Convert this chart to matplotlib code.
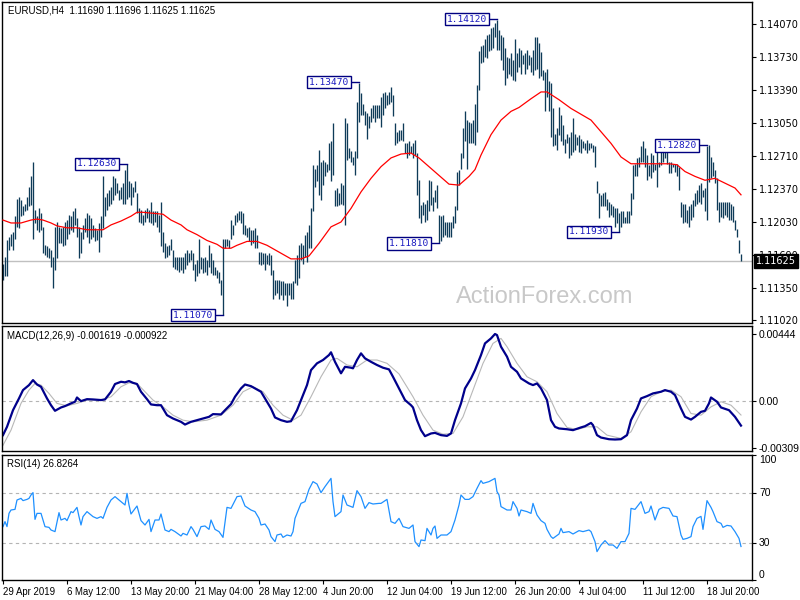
import numpy as np
import matplotlib
matplotlib.use('Agg')
import matplotlib.pyplot as plt

# EURUSD H4 bars, high / low in pips above 1.1000, one value per bar
hi_pips = [160, 167, 184, 188, 191, 193, 209, 227, 229, 226,
           219, 222, 229, 239, 250, 265, 215, 209, 217, 212,
           198, 179, 178, 176, 174, 167, 198, 203, 198, 197,
           198, 203, 205, 210, 209, 214, 217, 207, 198, 193,
           200, 207, 212, 210, 207, 200, 197, 195, 202, 209,
           250, 229, 233, 236, 239, 250, 248, 243, 236, 239,
           243, 257, 263, 245, 243, 239, 245, 233, 217, 215,
           210, 215, 217, 215, 224, 214, 214, 214, 210, 224,
           193, 181, 178, 179, 185, 174, 167, 167, 167, 167,
           167, 171, 174, 171, 174, 171, 160, 164, 186, 167,
           166, 167, 164, 179, 171, 164, 157, 154, 152, 143,
           185, 186, 186, 184, 205, 200, 210, 212, 214, 214,
           212, 200, 197, 198, 195, 195, 197, 190, 172, 172,
           171, 171, 169,
           171, 169, 154, 143, 143, 143, 142, 142, 140, 140,
           140, 140, 142, 164, 169, 179, 181, 179, 190, 193,
           200, 217, 262, 258, 262, 277, 265, 267, 265, 263,
           284, 286, 305, 236, 238, 233, 243, 241, 310, 305,
           279, 276, 270, 276, 327, 346, 336, 325, 317, 315,
           312, 320, 324, 324, 324, 324, 332, 336, 337, 334,
           337, 342, 334, 305, 296, 298, 298, 305, 284, 284,
           286, 281, 284, 288, 274, 246, 221, 224, 222, 226,
           246, 245, 229, 236, 241, 210, 209, 210, 203, 203,
           203, 203, 209, 219, 255, 257, 274, 300, 317, 308,
           306, 305, 308, 325, 344, 379, 384, 385, 392, 396,
           397, 403, 404, 408, 411, 401, 396, 394, 382, 373,
           372, 377, 370, 392,
           377, 382, 380, 375, 377, 380, 375, 373, 380, 394,
           394, 387, 378, 360, 358, 361, 348, 346, 320, 294,
           300, 322, 313, 303, 289, 294, 291, 296, 310, 294,
           291, 293, 289, 286, 284, 287, 284, 284, 282, 281,
           245, 233, 231, 233, 234, 227, 224, 222, 220, 217,
           217, 212, 214, 214, 208, 214, 214, 233, 262, 263,
           269, 270, 281, 286, 279, 272, 262, 274, 272, 263,
           279, 265, 275, 277, 281, 279, 265, 265, 263, 263,
           263, 260, 224, 222, 222, 215, 219, 222, 226, 233,
           236, 241, 243, 236, 238, 281, 282, 270, 265, 257,
           248, 224, 224, 224, 224, 224, 224, 222, 220, 205,
           196, 184, 170]
lo_pips = [143, 147, 147, 174, 178, 174, 185, 198, 197, 209,
           210, 214, 215, 219, 221, 186, 202, 195, 193, 195,
           171, 169, 167, 166, 157, 135, 154, 166, 181, 181,
           178, 179, 185, 191, 195, 193, 200, 188, 166, 171,
           185, 193, 188, 181, 186, 188, 183, 184, 172, 188,
           197, 209, 215, 219, 222, 226, 231, 233, 226, 227,
           222, 222, 227, 229, 221, 229, 234, 212, 203, 202,
           200, 203, 207, 203, 202, 200, 203, 198, 193, 178,
           172, 166, 167, 169, 174, 157, 155, 154, 152, 154,
           150, 155, 159, 162, 164, 154, 142, 147, 150, 155,
           150, 152, 148, 157, 150, 148, 148, 145, 140, 128,
           107, 176, 178, 176, 185, 190, 200, 203, 205, 202,
           191, 190, 188, 183, 179, 181, 176, 176, 160, 159,
           160, 154, 160,
           159, 148, 124, 128, 130, 124, 128, 123, 128, 116,
           128, 124, 124, 140, 138, 145, 164, 160, 167, 162,
           176, 176, 214, 239, 245, 231, 226, 241, 250, 255,
           257, 245, 251, 219, 219, 221, 222, 221, 200, 267,
           269, 265, 262, 251, 269, 306, 313, 313, 303, 289,
           300, 306, 310, 306, 310, 310, 301, 313, 320, 324,
           325, 327, 312, 282, 284, 286, 288, 286, 274, 269,
           272, 274, 269, 272, 231, 207, 202, 210, 203, 205,
           214, 221, 214, 224, 217, 181, 183, 188, 190, 188,
           188, 188, 197, 202, 215, 241, 258, 269, 286, 258,
           284, 284, 284, 282, 296, 339, 367, 368, 373, 372,
           379, 380, 382, 394, 380, 380, 370, 360, 344, 351,
           356, 353, 349, 348,
           358, 363, 356, 366, 356, 361, 365, 358, 354, 360,
           361, 351, 353, 349, 317, 332, 317, 291, 281, 282,
           277, 293, 286, 282, 274, 284, 269, 272, 275, 277,
           282, 275, 274, 279, 277, 274, 277, 279, 275, 260,
           233, 207, 219, 220, 219, 215, 208, 210, 208, 198,
           202, 193, 198, 202, 202, 202, 202, 210, 227, 250,
           250, 260, 265, 265, 260, 246, 250, 248, 255, 257,
           239, 260, 262, 265, 269, 263, 253, 253, 260, 255,
           250, 236, 208, 202, 203, 202, 198, 205, 208, 220,
           222, 224, 222, 229, 214, 205, 244, 248, 250, 243,
           215, 203, 208, 207, 210, 208, 205, 205, 203, 195,
           188, 171, 162.5]

# moving average (red), bar index / pips
ma_idx = [0, 4, 9, 14, 17, 20, 24, 27, 32, 37, 42, 47, 50, 54, 59, 64, 67, 70, 75, 80,
          84, 89, 92, 97, 102, 107, 110, 114, 117, 122, 127, 132, 138, 144, 149, 153, 158, 164, 169, 174,
          179, 184, 189, 194, 199, 204, 208, 213, 218, 223, 228, 233, 236, 239, 244, 249, 254, 258, 264, 269,
          272, 278, 284, 294, 299, 304, 309, 314, 321, 328, 333, 337, 341, 346, 351, 356, 361, 366, 369]
ma_pips = [205, 202, 202, 205, 206, 205, 202, 199, 197, 197, 195, 195, 195, 200, 204, 209, 213, 213, 212, 211,
           205, 200, 195, 190, 184, 180, 176, 176, 179, 183, 183, 179, 172, 165, 165, 168, 181, 198, 203, 217,
           234, 248, 260, 269, 273, 274, 269, 260, 251, 242, 241, 250, 257, 272, 293, 308, 317, 321, 330, 337,
           337, 329, 320, 308, 296, 284, 270, 263, 263, 263, 263, 262, 255, 250, 246, 248, 243, 238, 231]

# swing labels
swing_idx = [62, 110, 178, 218, 247, 308, 352]
swing_txt = ['1.12630', '1.11070', '1.13470', '1.11810', '1.14120', '1.11930', '1.12820']

# MACD(12,26,9)
macd_idx = [0, 2, 5, 8, 10, 13, 15, 17, 19, 22, 24, 26, 29, 31, 34, 36, 37, 39, 42, 45,
            49, 51, 54, 56, 59, 61, 63, 65, 67, 69, 72, 74, 77, 79, 82, 85, 89, 91, 94, 97,
            100, 103, 105, 109, 111, 114, 116, 119, 121, 124, 126, 129, 131, 134, 136, 139, 142, 144, 147, 149,
            152, 154, 157, 160, 163, 164, 166, 169, 171, 174, 175, 177, 179, 181, 184, 187, 190, 193, 195, 198,
            201, 204, 205, 207, 209, 211, 214, 216, 219, 222, 224, 226, 229, 231, 234, 236, 239, 241, 244, 246,
            247, 249, 252, 254, 257, 259, 263, 265, 267, 269, 272, 274, 276, 278, 282, 285, 289, 291, 294, 295,
            297, 299, 303, 306, 309, 312, 314, 317, 319, 322, 325, 329, 331, 334, 336, 339, 341, 344, 346, 349,
            351, 353, 354, 357, 359, 363, 366, 369]
macd_val = [-0.00225, -0.0017, -0.0006, 0.00018, 0.00073, 0.00106, 0.00139, 0.0011, 0.00095, 0.00018,
            -0.00027, -0.00064, -0.00042, -0.00033, -0.00015, -0.00004, 0.00024, 0.0, 0.00013, 0.00011,
            0.00007, 0.00011, 0.00062, 0.00113, 0.00128, 0.00124, 0.00133, 0.00121, 0.00113, 0.00062,
            0.00013, -0.00022, -0.00027, -0.00027, -0.00093, -0.00115, -0.00137, -0.00155, -0.00137, -0.00126,
            -0.00115, -0.00104, -0.00086, -0.00088, -0.0006, -0.0002, 0.00029, 0.00084, 0.0011, 0.00099,
            0.00084, 0.00062, 0.00018, -0.00049, -0.00108, -0.00126, -0.00137, -0.00133, -0.0006, 0.00007,
            0.00106, 0.00205, 0.0025, 0.00272, 0.00305, 0.00323, 0.0026, 0.00184, 0.00227, 0.00221,
            0.00217, 0.00272, 0.00316, 0.00283, 0.0026, 0.00239, 0.00221, 0.0021, 0.00161, 0.00084,
            0.00007, -0.00027, -0.00042, -0.00126, -0.00192, -0.00232, -0.00214, -0.0021, -0.00225, -0.0023,
            -0.00214, -0.00126, -0.00015, 0.00084, 0.0015, 0.00205, 0.00305, 0.00382, 0.00415, 0.00444,
            0.00437, 0.0036, 0.00294, 0.00227, 0.00194, 0.0015, 0.00117, 0.00106, 0.00117, 0.00084,
            0.00007, -0.00126, -0.0017, -0.00181, -0.00186, -0.00192, -0.00174, -0.00166, -0.00144, -0.00159,
            -0.00225, -0.00241, -0.00252, -0.00254, -0.00252, -0.00225, -0.00126, -0.00049, 0.00018, 0.00033,
            0.00051, 0.00062, 0.00073, 0.00062, 0.0004, -0.00049, -0.00104, -0.00122, -0.00104, -0.00071,
            -0.00064, -0.00015, 0.00024, -0.00004, -0.00042, -0.0006, -0.00104, -0.00162]
sig_idx = [0, 4, 9, 13, 16, 19, 23, 27, 32, 37, 42, 49, 54, 59, 63, 67, 71, 75, 80, 85,
           90, 95, 102, 109, 115, 120, 125, 130, 135, 140, 145, 149, 154, 159, 164, 167, 172, 177, 182, 187,
           192, 198, 205, 210, 215, 220, 225, 230, 235, 240, 245, 249, 252, 257, 262, 267, 272, 277, 282, 287,
           292, 297, 302, 309, 314, 319, 324, 329, 334, 339, 344, 349, 354, 359, 364, 369]
sig_val = [-0.00292, -0.00192, -0.00015, 0.00073, 0.00117, 0.00106, 0.00051, -0.00015, -0.00031, -0.00015,
           0.00007, 0.00007, 0.00029, 0.00095, 0.00121, 0.00117, 0.00062, 0.00007, -0.00038, -0.00093,
           -0.00126, -0.00137, -0.00126, -0.00093, -0.00027, 0.00062, 0.00095, 0.00062, -0.00027, -0.00093,
           -0.00126, -0.00093, 0.00029, 0.00161, 0.00272, 0.00283, 0.00239, 0.00227, 0.00272, 0.00272,
           0.0025, 0.0018, 0.00029, -0.00093, -0.00192, -0.00219, -0.00214, -0.00104, 0.00073, 0.0025,
           0.00382, 0.00415, 0.0036, 0.0025, 0.00161, 0.00128, 0.00062, -0.00082, -0.00174, -0.00188,
           -0.0017, -0.0017, -0.00225, -0.00247, -0.00203, -0.00071, 0.00029, 0.00062, 0.00073, 0.00029,
           -0.00082, -0.00093, -0.00038, -0.00004, -0.00027, -0.00092]

# RSI(14)
rsi_idx = [0, 1, 2, 3, 4, 6, 7, 9, 10, 12, 13, 14, 15, 16, 17, 19, 21, 23, 24, 26,
           28, 29, 31, 32, 34, 35, 37, 38, 39, 40, 42, 44, 45, 47, 49, 50, 52, 54, 56, 59,
           61, 62, 63, 64, 67, 69, 71, 73, 74, 76, 78, 79, 81, 83, 84, 86, 89, 90, 92, 94,
           95, 97, 99, 101, 103, 104, 106, 108, 110, 112, 114, 117, 119, 121, 124, 126, 128, 129, 131, 133,
           134, 136, 137, 139, 140, 142, 144, 145, 146, 148, 149, 151, 153, 155, 157, 159, 161, 164, 165, 166,
           169, 170, 172, 174, 175, 177, 179, 181, 183, 185, 188, 189, 192, 194, 196, 198,
           200, 203, 205, 206, 208, 209, 211, 212, 214, 215, 216, 217, 219, 222, 224, 226, 228, 229, 231, 233,
           235, 237, 239, 240, 243, 246, 247, 248, 249, 252, 254, 255, 257, 258, 259, 262, 264, 265, 267, 269,
           271, 272, 274, 275, 278, 279, 280, 283, 285, 288, 290, 293, 294, 296, 297, 299, 301, 303, 305, 307,
           309, 311, 313, 314, 316, 319, 321, 323, 324, 326, 328, 330, 333, 335, 337, 339, 340, 342, 344, 345,
           347, 349, 350, 352, 354, 355, 357, 359, 360, 362, 364, 366, 368, 369]
rsi_val = [42.7, 46.7, 42.7, 53.3, 56, 56.5, 64, 65.3, 63.5, 64.5, 65.3, 68, 69.9, 48.5, 53.3, 53.3, 42.7, 42.1, 40, 38.7,
           53.9, 48, 49.3, 47.5, 54.7, 53.9, 58.1, 50.7, 44, 50.7, 54.7, 52, 50.7, 49.3, 50.7, 49.3, 58.1, 64, 66.7, 62.7,
           60, 69.3, 60, 52.8, 59.2, 47.5, 44, 48.5, 38.7, 48, 48, 52.8, 40, 38.7, 40.5, 38.7, 35.2, 37.3, 36, 42.7,
           40.5, 34.7, 42.7, 43.2, 40.5, 48, 40.5, 38.7, 34.1, 58.1, 57.3, 66.7, 67.2, 59.2, 56, 54.7, 49.3, 44, 44.8, 40,
           34.7, 30.7, 36, 36.8, 34.1, 36, 35.2, 38.7, 49.3, 57.3, 61.3, 62.7, 72.5, 78.7, 76.8, 69.9, 74.7, 81.3, 62.7, 50.7,
           54.7, 68, 60, 58.7, 58.1, 71.5, 66.7, 57.3, 61.9, 60.8, 61.3, 61.3, 64.5, 46.7, 45.3, 49.3,
           42.7, 41.3, 44, 30.7, 26.7, 32, 31.5, 41.3, 36, 41.3, 43.2, 33.3, 36, 36, 38.7, 48, 60, 68, 64.5, 64.5,
           66.7, 73.3, 79.5, 77.3, 78.7, 81.3, 70.7, 68, 58.7, 56, 56, 62.7, 57.3, 51.2, 56, 54.7, 53.3, 61.3, 52, 47.5,
           45.3, 40.5, 34.7, 33.3, 36.8, 41.3, 37.9, 38.7, 36.8, 39.5, 38.7, 40, 38.7, 30.7, 22.7, 28, 31.5, 28, 28, 25.3,
           30.7, 30.7, 37.3, 57.3, 56.5, 62.7, 53.3, 54.7, 59.2, 48, 56.5, 58.1, 57.3, 51.2, 50.7, 36, 32.5, 33.3, 34.7, 42.7,
           49.3, 50.9, 40.5, 63.5, 58.1, 54.7, 46.7, 45.3, 42.1, 43.7, 43.2, 38.7, 33.3, 26.8]

# time axis
date_idx = [0, 32, 64, 96, 128, 160, 192, 224, 256, 288, 320, 352]
date_txt = ['29 Apr 2019', '6 May 12:00', '13 May 20:00', '21 May 04:00', '28 May 12:00',
            '4 Jun 20:00', '12 Jun 04:00', '19 Jun 12:00', '26 Jun 20:00', '4 Jul 04:00',
            '11 Jul 12:00', '18 Jul 20:00']

price_ticks = [1.14070, 1.13730, 1.13390, 1.13050, 1.12710, 1.12370, 1.12030, 1.11690, 1.11350, 1.11020]
last_price = 1.11625

highs = 1.1 + np.array(hi_pips) / 10000
lows = 1.1 + np.array(lo_pips) / 10000
ma = 1.1 + np.array(ma_pips) / 10000
idx = np.arange(len(highs))

bar_col = '#0e3b58'
fs = 7
sans = 'Liberation Sans'

fig = plt.figure(figsize=(8, 6), dpi=100)
ax = fig.add_axes([2 / 800, 277 / 600, 750 / 800, 321 / 600])
ax2 = fig.add_axes([2 / 800, 149 / 600, 750 / 800, 125 / 600])
ax3 = fig.add_axes([2 / 800, 20 / 600, 750 / 800, 125 / 600])

for a in (ax, ax2, ax3):
    a.set_xlim(-0.5, 374.5)
    a.yaxis.tick_right()
    a.tick_params(axis='y', direction='out', length=3, labelsize=fs, pad=2, width=0.8)
    for s in a.spines.values():
        s.set_linewidth(1.0)
        s.set_color('black')

#%% main price panel
ax.axhline(last_price, color='#c0c0c0', lw=1.0, zorder=1)
ax.vlines(idx, lows, highs, color=bar_col, lw=0.95, zorder=2)
ax.plot(ma_idx, ma, color='red', lw=0.9, zorder=3)
ax.set_ylim(1.109894, 1.142967)
ax.set_yticks(price_ticks)
ax.set_yticklabels(['%.5f' % p for p in price_ticks])
ax.set_xticks([])

for i, t in zip(swing_idx, swing_txt):
    p = float(t)
    ax.plot([i - 5, i], [p, p], color='#000080', lw=1.0, zorder=4)
    ax.text(i - 5, p, t, ha='right', va='center', fontsize=6.8, family='DejaVu Sans Mono',
            color='#1a1ac0', zorder=5,
            bbox=dict(boxstyle='square,pad=0.18', fc='white', ec='#000080', lw=1.0))

ax.text(0.008, 0.99, 'EURUSD,H4  1.11690 1.11696 1.11625 1.11625', transform=ax.transAxes,
        ha='left', va='top', fontsize=fs, family=sans)
ax.text(0.724, 0.081, 'ActionForex.com', transform=ax.transAxes, ha='center', va='center',
        fontsize=17, family=sans, color='#c8c8c8', zorder=1)
ax.annotate('%.5f' % last_price, xy=(1.0, last_price), xycoords=('axes fraction', 'data'),
            xytext=(3, 0), textcoords='offset points', ha='left', va='center', fontsize=fs,
            color='white', annotation_clip=False, zorder=10,
            bbox=dict(boxstyle='square,pad=0.2', fc='black', ec='black'))

#%% MACD panel
ax2.axhline(0, color='#b4b4b4', lw=0.8, ls=(0, (3, 3)))
ax2.plot(sig_idx, sig_val, color='#b8b8b8', lw=0.8)
ax2.plot(macd_idx, macd_val, color='#00008b', lw=1.6)
ax2.set_ylim(-0.0033, 0.00497)
ax2.set_yticks([0.00444, 0.0, -0.00309])
ax2.set_yticklabels(['0.00444', '0.00', '-0.00309'])
ax2.tick_params(axis='y', labelfontfamily=sans, labelsize=7.5)
ax2.set_xticks([])
ax2.text(0.007, 0.96, 'MACD(12,26,9) -0.001619 -0.000922', transform=ax2.transAxes,
         ha='left', va='top', fontsize=fs, family=sans)

#%% RSI panel
ax3.axhline(70, color='#b4b4b4', lw=0.8, ls=(0, (3, 3)))
ax3.axhline(30, color='#b4b4b4', lw=0.8, ls=(0, (3, 3)))
ax3.plot(rsi_idx, rsi_val, color='#1e90ff', lw=0.9)
ax3.set_ylim(0, 100)
ax3.set_yticks([100, 70, 30, 0])
ax3.set_yticklabels(['100', '70', '30', '0'])
ax3.tick_params(axis='y', labelfontfamily=sans, labelsize=7.5)
lbls = ax3.get_yticklabels()
lbls[0].set_va('top')
lbls[3].set_va('bottom')
ax3.set_xticks(date_idx)
ax3.set_xticklabels(date_txt, ha='left')
ax3.tick_params(axis='x', direction='out', length=3, labelsize=6.9, pad=2, width=0.8,
                labelfontfamily=sans)
ax3.text(0.007, 0.968, 'RSI(14) 26.8264', transform=ax3.transAxes,
         ha='left', va='top', fontsize=fs, family=sans)

fig.savefig('out.png', dpi=100)
